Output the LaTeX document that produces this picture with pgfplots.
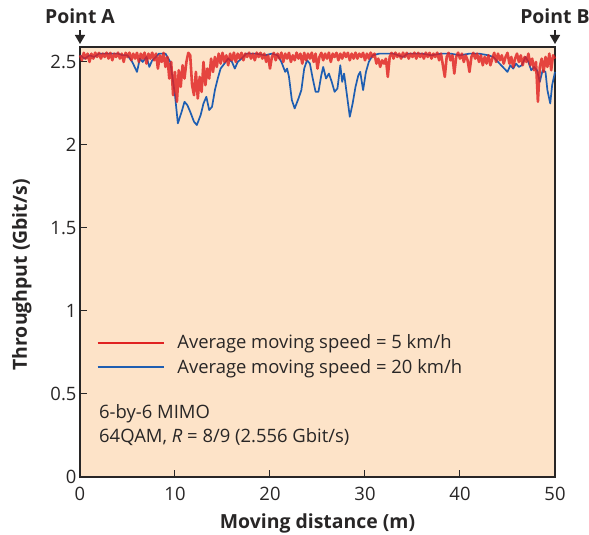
\documentclass[border=0pt]{standalone}
\usepackage{pgfplots}
\pgfplotsset{compat=1.18}
\usepackage{fontspec}
\setmainfont{Open Sans}
\usetikzlibrary{arrows.meta}
\definecolor{peach}{RGB}{253,227,200}
\definecolor{redline}{RGB}{224,34,34}
\definecolor{blueline}{RGB}{30,94,178}
\definecolor{axisgray}{RGB}{40,38,38}

\begin{document}
\begin{tikzpicture}
\useasboundingbox (-80bp,-58bp) rectangle (509bp,477bp);
\begin{axis}[
  at={(0,0)}, anchor=south west,
  width=475bp, height=430bp, scale only axis,
  xmin=0, xmax=50, ymin=0, ymax=2.59,
  clip=false,
  xtick={0,10,...,50}, ytick={0,0.5,1,1.5,2,2.5},
  tick align=inside, tick pos=left,
  major tick length=7bp,
  every tick/.style={axisgray, line width=1bp},
  axis line style={axisgray, line width=1.4bp},
  axis background/.style={fill=peach},
  font=\fontsize{18.5}{22}\selectfont,
  /pgf/number format/assume math mode=true,
  xticklabel style={anchor=base, yshift=-23bp, text=axisgray},
  yticklabel style={text=axisgray},
  xlabel={\fontsize{19.5}{22}\selectfont\bfseries Moving distance (m)},
  ylabel={\fontsize{19.5}{22}\selectfont\bfseries Throughput (Gbit/s)},
  xlabel style={at={([yshift=-51bp]axis description cs:0.5,0)}, anchor=base, text=axisgray},
  ylabel style={at={([xshift=-53bp]axis description cs:0,0.47)}, anchor=base, text=axisgray},
  reverse legend,
  legend cell align=left,
  legend image code/.code={\draw[#1, line width=1.7bp, opacity=1] (0bp,0bp) -- (66bp,0bp);},
  legend style={draw=none, fill=none, at={(rel axis cs:0.0284,0.34)}, anchor=north west,
    font=\fontsize{18.5}{22}\selectfont, text=axisgray, row sep=5bp,
    /tikz/every odd column/.append style={column sep=11bp}},
]
\addplot[blueline, line width=1.7bp, line join=round]
coordinates {
(0,2.54)(0.5,2.52)(1,2.54)(1.5,2.53)(2,2.55)(3,2.55)(4,2.55)(4.5,2.54)(5,2.54)
(5.5,2.50)(6,2.44)(6.3,2.52)(6.6,2.50)(7,2.53)(7.3,2.47)(7.6,2.51)(8,2.53)(8.3,2.55)
(9,2.55)(9.5,2.50)(10,2.30)(10.3,2.13)(10.7,2.20)(11,2.26)(11.3,2.24)(11.6,2.20)
(12,2.14)(12.3,2.12)(12.7,2.18)(13,2.25)(13.3,2.29)(13.6,2.21)(13.9,2.23)(14.2,2.33)
(14.5,2.40)(14.8,2.46)(15.2,2.49)(15.6,2.52)(16,2.50)(16.3,2.46)(16.6,2.50)(17,2.52)
(17.5,2.55)(18.5,2.55)(19.5,2.54)(20.2,2.55)(20.8,2.54)(21.2,2.50)(21.6,2.44)(21.8,2.46)
(22,2.41)(22.3,2.27)(22.6,2.22)(23,2.28)(23.3,2.33)(23.6,2.46)(23.9,2.51)(24.2,2.49)
(24.5,2.40)(24.8,2.32)(25.1,2.32)(25.4,2.42)(25.6,2.47)(25.9,2.40)(26.2,2.43)(26.5,2.38)
(26.8,2.32)(27.1,2.34)(27.4,2.48)(27.6,2.38)(27.8,2.43)(28.1,2.30)(28.4,2.17)(28.7,2.25)
(29,2.35)(29.3,2.42)(29.5,2.44)(29.8,2.33)(30.1,2.44)(30.4,2.50)(30.8,2.54)(31.5,2.55)
(33,2.55)(34,2.53)(34.5,2.55)(36,2.55)(37,2.54)(38,2.55)(39,2.55)(40,2.54)(41,2.55)
(42,2.55)(43,2.54)(43.5,2.53)(44,2.50)(44.5,2.47)(45,2.44)(45.3,2.48)(45.6,2.46)
(45.9,2.49)(46.2,2.47)(46.5,2.48)(46.9,2.53)(47.2,2.50)(47.5,2.45)(47.8,2.47)(48.1,2.45)
(48.4,2.38)(48.7,2.45)(49,2.44)(49.2,2.33)(49.5,2.25)(49.7,2.36)(50,2.44)
};
\addlegendentry{Average moving speed = 20 km/h}
\addplot[redline, line width=2.6bp, opacity=0.82, line join=round]
coordinates {
(0.0,2.54)(0.2,2.51)(0.4,2.555)(0.6,2.52)(0.8,2.55)
(1.0,2.50)(1.2,2.55)(1.4,2.52)(1.6,2.556)(1.8,2.53)
(2.0,2.555)(2.2,2.52)(2.4,2.55)(2.6,2.53)(2.8,2.556)
(3.0,2.52)(3.2,2.555)(3.4,2.51)(3.6,2.55)(3.8,2.53)
(4.0,2.556)(4.2,2.52)(4.4,2.55)(4.6,2.50)(4.8,2.555)
(5.0,2.53)(5.2,2.556)(5.4,2.51)(5.6,2.55)(5.8,2.52)
(6.0,2.555)(6.2,2.50)(6.4,2.55)(6.6,2.52)(6.8,2.556)
(7.0,2.49)(7.2,2.55)(7.4,2.52)(7.6,2.556)(7.8,2.51)
(8.0,2.55)(8.2,2.46)(8.4,2.54)(8.6,2.50)(8.8,2.555)
(9.0,2.47)(9.2,2.53)(9.4,2.40)(9.6,2.50)(9.8,2.30)
(10.0,2.44)(10.2,2.26)(10.4,2.45)(10.6,2.35)(10.8,2.48)
(11.0,2.40)(11.2,2.50)(11.4,2.555)(11.6,2.54)(11.8,2.36)
(12.0,2.30)(12.2,2.44)(12.4,2.28)(12.6,2.41)(12.8,2.32)
(13.0,2.50)(13.2,2.36)(13.4,2.46)(13.6,2.40)(13.8,2.52)
(14.0,2.44)(14.2,2.53)(14.4,2.47)(14.6,2.55)(14.8,2.49)
(15.0,2.555)(15.2,2.50)(15.4,2.54)(15.6,2.48)(15.8,2.55)
(16.0,2.51)(16.2,2.556)(16.4,2.50)(16.6,2.55)(16.8,2.52)
(17.0,2.555)(17.2,2.51)(17.4,2.55)(17.6,2.53)(17.8,2.556)
(18.0,2.52)(18.2,2.55)(18.4,2.51)(18.6,2.556)(18.8,2.53)
(19.0,2.555)(19.2,2.52)(19.4,2.55)(19.6,2.50)(19.8,2.54)
(20.0,2.46)(20.2,2.53)(20.4,2.555)(20.6,2.51)(20.8,2.55)
(21.0,2.52)(21.2,2.556)(21.4,2.50)(21.6,2.55)(21.8,2.52)
(22.0,2.555)(22.2,2.50)(22.4,2.54)(22.6,2.51)(22.8,2.556)
(23.0,2.52)(23.2,2.55)(23.4,2.49)(23.6,2.555)(23.8,2.51)
(24.0,2.55)(24.2,2.52)(24.4,2.556)(24.6,2.50)(24.8,2.55)
(25.0,2.46)(25.2,2.53)(25.4,2.555)(25.6,2.51)(25.8,2.55)
(26.0,2.52)(26.2,2.556)(26.4,2.50)(26.6,2.55)(26.8,2.53)
(27.0,2.555)(27.2,2.51)(27.4,2.55)(27.6,2.52)(27.8,2.556)
(28.0,2.53)(28.2,2.555)(28.4,2.51)(28.6,2.55)(28.8,2.52)
(29.0,2.556)(29.2,2.52)(29.4,2.55)(29.6,2.53)(29.8,2.555)
(30.0,2.51)(30.2,2.55)(30.4,2.52)(30.6,2.556)(30.8,2.53)
(31.0,2.55)(31.2,2.49)(31.4,2.52)(31.6,2.47)(31.8,2.51)
(32.0,2.49)(32.2,2.52)(32.4,2.41)(32.6,2.53)(32.8,2.555)
(33.0,2.52)(33.2,2.556)(33.4,2.53)(33.6,2.55)(33.8,2.52)
(34.0,2.556)(34.2,2.53)(34.4,2.555)(34.6,2.52)(34.8,2.55)
(35.0,2.53)(35.2,2.556)(35.4,2.52)(35.6,2.555)(35.8,2.53)
(36.0,2.55)(36.2,2.52)(36.4,2.556)(36.6,2.53)(36.8,2.555)
(37.0,2.52)(37.2,2.55)(37.4,2.53)(37.6,2.556)(37.8,2.51)
(38.0,2.55)(38.2,2.48)(38.4,2.41)(38.6,2.53)(38.8,2.555)
(39.0,2.51)(39.2,2.54)(39.4,2.43)(39.6,2.53)(39.8,2.556)
(40.0,2.52)(40.2,2.55)(40.4,2.50)(40.6,2.54)(40.8,2.51)
(41.0,2.44)(41.2,2.53)(41.4,2.555)(41.6,2.52)(41.8,2.55)
(42.0,2.50)(42.2,2.54)(42.4,2.48)(42.6,2.53)(42.8,2.49)
(43.0,2.54)(43.2,2.48)(43.4,2.52)(43.6,2.555)(43.8,2.50)
(44.0,2.55)(44.2,2.51)(44.4,2.54)(44.6,2.49)(44.8,2.53)
(45.0,2.555)(45.2,2.49)(45.4,2.53)(45.6,2.47)(45.8,2.52)
(46.0,2.55)(46.2,2.50)(46.4,2.54)(46.6,2.48)(46.8,2.53)
(47.0,2.50)(47.2,2.55)(47.4,2.48)(47.6,2.52)(47.8,2.45)
(48.0,2.50)(48.2,2.26)(48.4,2.47)(48.6,2.52)(48.8,2.44)
(49.0,2.53)(49.2,2.47)(49.4,2.55)(49.6,2.45)(49.8,2.54)
(50.0,2.52)
};
\addlegendentry{Average moving speed = 5 km/h}

\node[anchor=base west, inner sep=0pt, text=axisgray] at (axis cs:2,0.355) {6-by-6 MIMO};
\node[anchor=base west, inner sep=0pt, text=axisgray] at (axis cs:2,0.21) {64QAM, \textit{R} = 8/9 (2.556 Gbit/s)};

\draw[axisgray, line width=1.4bp, -{Triangle[length=9bp,width=10bp]}]
  ([yshift=17bp]rel axis cs:0,1) -- ([yshift=3bp]rel axis cs:0,1);
\draw[axisgray, line width=1.4bp, -{Triangle[length=9bp,width=10bp]}]
  ([yshift=17bp]rel axis cs:1,1) -- ([yshift=3bp]rel axis cs:1,1);
\node[anchor=base, inner sep=0pt, text=axisgray, font=\fontsize{19.5}{22}\selectfont\bfseries] at ([yshift=23bp]rel axis cs:0,1) {Point A};
\node[anchor=base, inner sep=0pt, text=axisgray, font=\fontsize{19.5}{22}\selectfont\bfseries] at ([yshift=23bp]rel axis cs:1,1) {Point B};
\end{axis}
\end{tikzpicture}
\end{document}
